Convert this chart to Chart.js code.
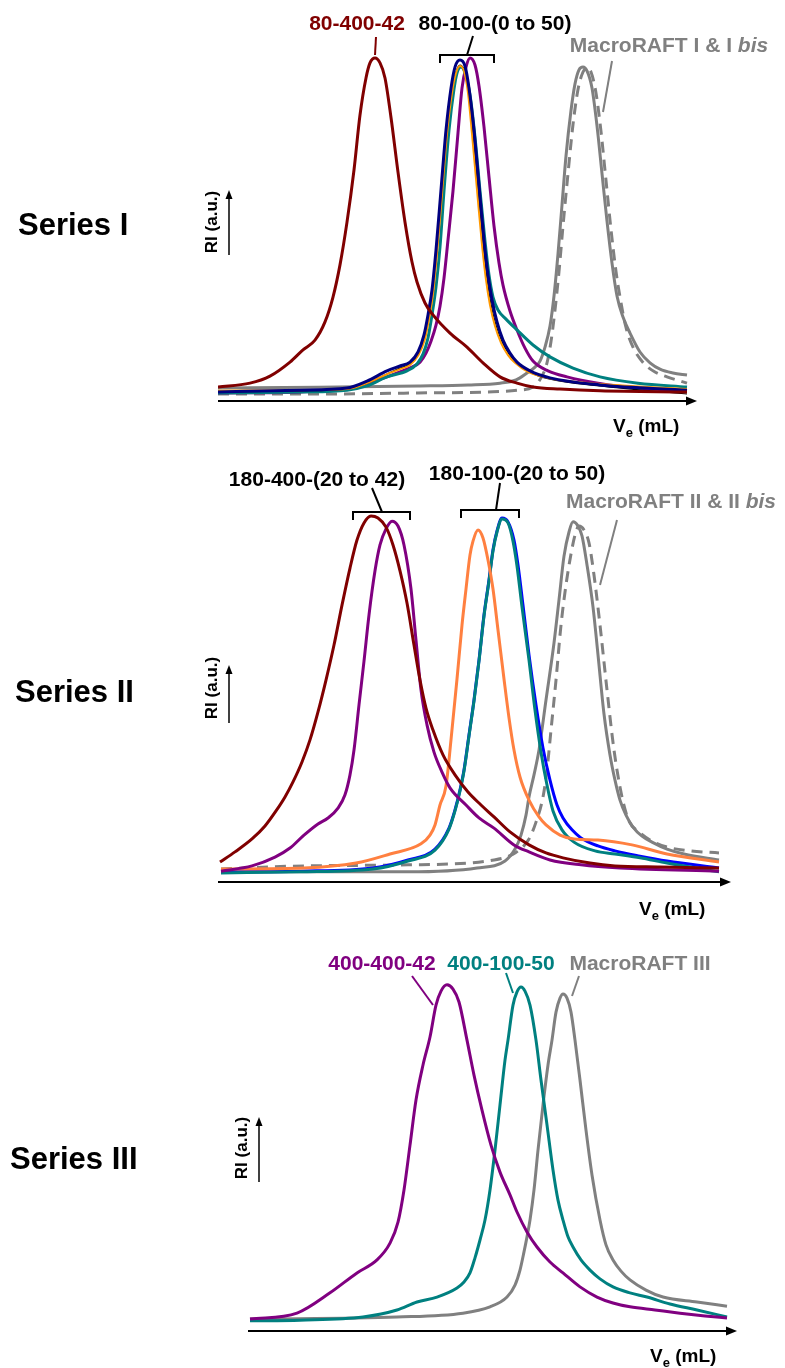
<!DOCTYPE html>
<html>
<head>
<meta charset="utf-8">
<title>SEC traces, series I to III</title>
<script src="https://cdn.jsdelivr.net/npm/chart.js@4"></script>
<style>
  body { margin: 0; background: #fff; }
  #wrap { position: relative; width: 785px; height: 1368px; }
  #wrap canvas { position: absolute; left: 0; top: 0; }
</style>
</head>
<body>
<div id="wrap">
  <canvas id="chart1" width="785" height="1368"></canvas>
  <canvas id="chart2" width="785" height="1368"></canvas>
  <canvas id="chart3" width="785" height="1368"></canvas>
</div>
<script>
"use strict";

// [Ve, RI] pairs, arbitrary units

// ---- Series I ----
let s1_80_400_42 = [[0,4.0],[3.2,5.1],[5.2,7.1],[7.2,11.1],[8.5,14.6],[9.7,17.4],[10.7,22.6],[11.5,29.7],[12.2,38.9],[12.9,51.1],[13.6,66.0],[14.2,81.7],[14.8,92.3],[15.2,96.6],[15.7,98.0],[16.2,96.6],[16.7,92.3],[17.3,81.0],[18.0,65.4],[18.7,51.1],[19.4,39.7],[19.9,34.0],[20.7,28.0],[21.5,24.6],[23.2,19.4],[24.9,15.4],[26.5,10.9],[28.2,6.9],[29.9,5.1],[31.5,4.0],[34.2,3.4],[38.2,2.9],[46.9,2.6]];
let s1_navy = [[0,2.6],[8.2,3.1],[12.9,3.7],[14.9,5.7],[16.9,8.6],[18.2,10.0],[19.2,11.1],[20.0,14.0],[20.6,18.9],[21.0,24.6],[21.4,31.7],[21.8,43.1],[22.3,60.3],[22.8,77.4],[23.3,89.4],[23.7,95.4],[24.2,97.4],[24.7,95.7],[25.1,89.4],[25.6,77.4],[26.1,61.7],[26.6,46.0],[27.0,36.0],[27.4,28.9],[27.9,22.6],[28.5,17.4],[29.2,13.7],[29.9,11.1],[31.2,8.6],[33.2,6.6],[38.2,4.6],[46.9,3.1]];
let s1_orange = [[0,2.9],[8.2,3.1],[12.9,3.4],[14.9,5.1],[16.9,7.7],[18.2,9.1],[19.2,10.3],[20.0,12.9],[20.7,17.7],[21.1,23.4],[21.5,30.6],[21.9,42.0],[22.4,59.1],[22.9,76.3],[23.4,88.0],[23.8,93.7],[24.2,95.7],[24.6,94.3],[25.0,88.0],[25.4,76.3],[25.9,60.3],[26.4,44.6],[26.8,34.6],[27.2,27.4],[27.7,21.4],[28.3,16.6],[29.0,13.1],[29.7,10.9],[31.0,8.3],[33.0,6.6],[38.0,4.9],[46.9,3.4]];
let s1_black = [[0,2.6],[8.2,2.9],[12.9,3.4],[14.9,5.1],[16.9,7.7],[18.2,9.4],[19.2,10.6],[20.0,13.1],[20.6,18.0],[21.1,23.7],[21.5,31.0],[21.9,42.6],[22.4,59.4],[22.9,76.6],[23.4,88.3],[23.8,94.0],[24.2,96.0],[24.6,94.6],[25.1,88.3],[25.5,76.6],[26.0,60.6],[26.5,45.1],[26.9,35.1],[27.3,27.7],[27.8,21.7],[28.4,16.9],[29.1,13.4],[29.8,11.1],[31.1,8.3],[33.1,6.3],[38.1,4.3],[46.9,2.0]];
let s1_teal = [[0,2.3],[8.2,2.6],[12.9,3.1],[14.9,4.3],[16.9,6.9],[18.9,8.6],[19.9,10.6],[20.5,13.4],[21.0,18.0],[21.4,24.6],[21.8,32.6],[22.2,44.0],[22.6,60.0],[23.1,77.4],[23.6,89.1],[23.9,93.7],[24.3,95.4],[24.7,93.7],[25.2,87.4],[25.7,75.4],[26.2,60.0],[26.7,45.7],[27.1,36.0],[27.5,29.7],[28.0,26.0],[28.8,23.4],[29.9,20.3],[31.5,16.0],[33.2,12.6],[35.5,9.4],[38.2,6.9],[42.0,5.1],[46.9,4.0]];
let s1_purple = [[0,2.3],[8.2,2.6],[12.9,3.4],[14.9,4.9],[16.9,6.9],[18.2,8.3],[19.4,9.7],[20.2,11.1],[20.8,13.7],[21.3,17.1],[21.8,21.7],[22.2,27.1],[22.6,35.1],[23.0,46.0],[23.5,60.0],[24.0,76.6],[24.4,89.4],[24.8,95.4],[25.2,98.0],[25.7,96.0],[26.1,90.0],[26.6,78.3],[27.1,64.0],[27.6,50.0],[28.1,39.4],[28.5,33.1],[29.2,25.7],[29.9,20.3],[30.7,15.1],[31.5,11.4],[33.0,8.6],[34.9,6.9],[38.0,5.1],[42.0,3.7],[46.9,2.9]];
let s1_macro = [[0,3.7],[10,3.9],[20,4.3],[25,4.6],[28.2,5.1],[29.8,6.0],[30.9,8.0],[31.7,9.7],[32.2,11.4],[32.7,15.4],[33.2,21.4],[33.6,30.0],[34.0,42.0],[34.4,56.0],[34.8,70.0],[35.3,83.0],[35.7,90.6],[36.1,94.6],[36.5,95.4],[36.9,94.3],[37.4,89.4],[37.9,78.6],[38.4,65.0],[38.9,51.4],[39.4,39.4],[39.9,30.0],[40.5,24.0],[41.2,19.4],[42.2,14.0],[43.2,10.9],[44.2,9.1],[45.5,8.0],[46.9,7.4]];
let s1_macroBis = [[0,2.0],[10,2.0],[20,2.3],[27,2.6],[30,3.1],[31.5,4.0],[32.3,6.6],[32.9,10.9],[33.3,17.0],[33.7,26.0],[34.1,37.0],[34.5,50.0],[35.0,65.0],[35.5,79.0],[36.0,89.0],[36.5,94.0],[36.9,95.1],[37.3,94.0],[37.8,88.0],[38.3,77.0],[38.8,63.0],[39.3,49.0],[39.8,37.0],[40.2,29.7],[40.8,21.0],[41.5,15.4],[42.5,11.0],[43.7,8.3],[44.9,6.9],[46.9,5.1]];

// ---- Series II ----
let s2_darkred = [[0.2,5.7],[1.7,8.6],[3.4,12.3],[4.7,16.0],[5.8,20.3],[6.7,24.3],[7.5,28.6],[8.4,34.3],[9.2,40.6],[10.0,48.6],[10.8,57.7],[11.6,67.7],[12.4,79.1],[13.2,89.7],[13.9,97.7],[14.6,102.6],[15.3,104.6],[16.0,104.0],[16.8,101.4],[17.5,96.3],[18.2,88.9],[18.9,79.7],[19.6,67.7],[20.2,57.7],[20.8,49.7],[21.5,43.4],[22.5,36.3],[23.7,30.6],[25.0,25.7],[26.3,22.0],[27.6,18.6],[29.2,14.3],[31.1,10.6],[32.8,8.3],[34.5,6.9],[37.2,5.4],[39.7,4.6],[44.2,4.3],[50.1,4.0]];
let s2_purple = [[0.3,3.1],[3.4,4.6],[5.7,7.1],[7.2,9.7],[8.6,13.4],[10.0,16.6],[11.0,18.3],[12.0,21.1],[12.7,24.9],[13.2,30.6],[13.6,37.7],[14.1,50.6],[14.6,63.1],[15.1,76.3],[15.7,88.9],[16.2,96.3],[16.8,100.9],[17.4,103.1],[18.0,101.7],[18.6,96.3],[19.3,83.7],[19.8,69.1],[20.3,54.9],[20.9,44.9],[21.6,37.1],[22.4,31.4],[23.2,26.9],[24.8,22.0],[26.1,18.3],[27.6,15.4],[29.6,10.6],[31.1,8.6],[33.2,6.3],[36.3,4.9],[40.2,4.0],[50.1,3.1]];
let s2_orange = [[0.3,3.7],[8.6,4.0],[13.8,5.4],[17.2,8.0],[20.3,10.9],[21.2,13.4],[21.7,16.3],[22.2,22.0],[22.8,27.4],[23.3,40.6],[23.9,58.0],[24.4,73.4],[24.8,83.7],[25.2,93.4],[25.5,97.4],[26.0,100.6],[26.5,98.3],[27.0,92.0],[27.5,83.7],[28.0,72.0],[28.6,58.0],[29.1,46.9],[29.6,37.7],[30.2,30.0],[31.1,23.4],[32.1,18.6],[32.8,16.3],[34.2,13.4],[35.6,12.3],[38.0,12.0],[41.4,10.6],[44.9,8.0],[50.1,5.7]];
let s2_blue = [[0.3,2.9],[8.2,3.1],[15.5,4.0],[19.0,6.3],[21.7,9.4],[23.1,15.4],[23.7,20.6],[24.2,26.3],[24.6,32.0],[25.1,42.0],[25.6,52.0],[26.1,63.4],[26.6,76.3],[27.1,86.3],[27.5,94.9],[27.9,100.3],[28.4,104.0],[29.0,102.9],[29.6,97.7],[30.0,90.6],[30.5,79.1],[31.1,64.9],[31.8,50.6],[32.5,38.3],[33.2,29.1],[33.9,22.0],[34.5,18.3],[35.4,14.9],[36.3,12.6],[38.0,10.3],[39.7,8.9],[42.2,7.4],[44.9,6.0],[50.1,4.0]];
let s2_teal = [[0.3,2.6],[8.2,2.9],[15.5,3.7],[19.0,6.0],[21.7,9.1],[23.1,15.1],[23.7,20.3],[24.2,26.0],[24.6,31.7],[25.1,41.7],[25.6,51.7],[26.1,63.1],[26.6,76.0],[27.1,86.0],[27.5,94.6],[27.9,100.0],[28.4,103.7],[29.0,102.6],[29.5,97.4],[29.9,90.3],[30.4,78.6],[31.1,63.4],[31.7,49.1],[32.3,37.1],[32.9,27.7],[33.5,20.3],[34.4,14.9],[35.6,11.4],[37.7,8.9],[39.7,8.0],[42.2,6.9],[44.9,5.4],[50.1,2.9]];
let s2_macro = [[0.3,2.9],[8.2,2.9],[19.0,2.9],[25.9,4.0],[28.7,6.0],[29.7,9.4],[30.3,13.4],[30.8,19.1],[31.1,24.3],[31.6,30.6],[32.1,37.7],[32.8,52.0],[33.6,68.3],[34.1,80.6],[34.6,93.1],[35.1,100.0],[35.5,102.9],[36.0,101.7],[36.4,98.9],[36.9,90.6],[37.5,78.6],[38.0,64.9],[38.6,48.0],[39.2,36.3],[39.7,29.1],[40.2,23.4],[40.8,19.1],[41.5,15.7],[42.4,13.1],[43.4,11.4],[44.9,9.4],[46.6,8.0],[50.1,6.3]];
let s2_macroBis = [[0.3,3.7],[8.6,4.6],[19.0,4.9],[27.6,6.3],[29.7,8.3],[31.1,12.3],[31.8,17.1],[32.5,24.3],[32.9,32.0],[33.3,43.4],[33.8,57.7],[34.3,73.4],[34.8,84.9],[35.3,93.7],[35.7,99.1],[36.1,101.7],[36.6,100.6],[37.1,96.9],[37.6,87.7],[38.2,73.4],[38.9,54.9],[39.6,37.7],[40.4,24.3],[41.1,17.4],[42.1,14.3],[43.2,12.0],[44.9,10.0],[47.2,8.9],[50.1,8.3]];

// ---- Series III ----
let s3_400_400_42 = [[0.2,3.4],[4.9,5.1],[8.2,10.9],[10.9,16.6],[12.9,20.3],[14.2,25.1],[15.0,31.1],[15.6,40.3],[16.2,53.1],[16.8,66.0],[17.5,76.0],[18.2,84.0],[18.8,93.1],[19.3,97.1],[19.9,98.9],[20.5,97.7],[21.1,94.0],[21.9,83.1],[22.6,73.1],[23.4,63.1],[24.3,53.1],[25.2,45.4],[26.2,38.9],[26.9,34.0],[27.9,28.3],[28.9,24.0],[30.2,19.7],[31.5,16.6],[33.2,12.6],[34.9,9.7],[36.5,8.0],[38.2,6.9],[40.7,6.0],[43.2,5.1],[45.7,4.3],[47.9,3.7]];
let s3_400_100_50 = [[0.2,2.9],[5.2,3.1],[11.5,4.0],[14.9,6.0],[16.9,8.3],[18.9,9.7],[20.9,12.3],[21.6,14.0],[22.2,16.6],[22.7,20.9],[23.2,26.0],[23.7,31.7],[24.2,40.3],[24.7,51.7],[25.2,64.6],[25.7,77.4],[26.0,83.1],[26.5,93.1],[26.9,96.9],[27.3,98.3],[27.7,97.1],[28.2,93.1],[28.8,83.1],[29.3,71.7],[29.9,58.9],[30.5,46.0],[31.0,37.4],[31.5,31.7],[32.0,26.9],[32.5,24.0],[33.3,20.3],[34.2,17.4],[35.2,14.9],[36.5,12.6],[38.2,10.9],[39.9,9.7],[42.2,7.7],[44.9,6.0],[47.9,4.0]];
let s3_macro = [[0.2,3.4],[14.9,4.0],[21.5,5.1],[24.2,6.9],[25.9,9.7],[26.7,13.1],[27.2,17.4],[27.6,22.6],[27.9,26.9],[28.2,31.7],[28.6,40.3],[29.0,51.7],[29.5,64.6],[30.0,76.0],[30.4,83.1],[30.8,91.1],[31.2,95.1],[31.5,96.3],[31.9,95.1],[32.3,91.1],[32.7,83.1],[33.2,71.7],[33.8,57.4],[34.4,44.6],[35.2,31.7],[35.8,24.6],[36.5,20.3],[37.3,17.1],[38.2,14.6],[39.8,11.7],[41.5,9.7],[44.9,8.3],[47.9,7.1]];

let FONT = "'Liberation Sans', Arial, sans-serif";
let GREY = "#808080";

function curve(points, color, width, dash) {
  return {
    data: points.map(p => ({ x: p[0], y: p[1] })),
    borderColor: color,
    borderWidth: width,
    borderDash: dash || [],
    pointRadius: 0,
    fill: false,
    cubicInterpolationMode: "monotone",
  };
}

function drawText(ctx, parts, cx, baseline, color, size) {
  let total = 0;
  for (let p of parts) {
    ctx.font = (p[1] ? "italic " : "") + "bold " + size + "px " + FONT;
    total += ctx.measureText(p[0]).width;
  }
  let x = cx - total / 2;
  ctx.fillStyle = color;
  ctx.textBaseline = "alphabetic";
  ctx.textAlign = "left";
  for (let p of parts) {
    ctx.font = (p[1] ? "italic " : "") + "bold " + size + "px " + FONT;
    ctx.fillText(p[0], x, baseline);
    x += ctx.measureText(p[0]).width;
  }
}

function line(ctx, x1, y1, x2, y2, color, w) {
  ctx.strokeStyle = color;
  ctx.lineWidth = w;
  ctx.setLineDash([]);
  ctx.beginPath();
  ctx.moveTo(x1, y1);
  ctx.lineTo(x2, y2);
  ctx.stroke();
}

function bracket(ctx, x1, x2, y, tick) {
  ctx.strokeStyle = "#000";
  ctx.lineWidth = 2;
  ctx.beginPath();
  ctx.moveTo(x1, y + tick);
  ctx.lineTo(x1, y);
  ctx.lineTo(x2, y);
  ctx.lineTo(x2, y + tick);
  ctx.stroke();
}

function xAxisArrow(chart) {
  let ctx = chart.ctx;
  let area = chart.chartArea;
  let y = chart.scales.y.getPixelForValue(0);
  line(ctx, area.left, y, area.right - 8, y, "#000", 1.8);
  ctx.fillStyle = "#000";
  ctx.beginPath();
  ctx.moveTo(area.right, y);
  ctx.lineTo(area.right - 11, y - 4.5);
  ctx.lineTo(area.right - 11, y + 4.5);
  ctx.closePath();
  ctx.fill();
}

function veLabel(ctx, x, baseline) {
  ctx.fillStyle = "#000";
  ctx.textAlign = "left";
  ctx.textBaseline = "alphabetic";
  ctx.font = "bold 19px " + FONT;
  ctx.fillText("V", x, baseline);
  let w = ctx.measureText("V").width;
  ctx.font = "bold 13px " + FONT;
  ctx.fillText("e", x + w, baseline + 5);
  let w2 = ctx.measureText("e").width;
  ctx.font = "bold 19px " + FONT;
  ctx.fillText(" (mL)", x + w + w2, baseline);
}

function riLabel(ctx, x, cy, ax, aTop, aBottom) {
  ctx.save();
  ctx.translate(x, cy);
  ctx.rotate(-Math.PI / 2);
  ctx.fillStyle = "#000";
  ctx.font = "bold 17px " + FONT;
  ctx.textAlign = "center";
  ctx.textBaseline = "middle";
  ctx.fillText("RI (a.u.)", 0, 0);
  ctx.restore();
  line(ctx, ax, aBottom, ax, aTop + 6, "#000", 1.5);
  ctx.fillStyle = "#000";
  ctx.beginPath();
  ctx.moveTo(ax, aTop);
  ctx.lineTo(ax - 3.5, aTop + 9);
  ctx.lineTo(ax + 3.5, aTop + 9);
  ctx.closePath();
  ctx.fill();
}

function seriesLabel(ctx, text, x, baseline) {
  ctx.fillStyle = "#000";
  ctx.font = "bold 31px " + FONT;
  ctx.textAlign = "left";
  ctx.textBaseline = "alphabetic";
  ctx.fillText(text, x, baseline);
}

function makePanel(id, datasets, xMax, padding, extras) {
  let ctx = document.getElementById(id);
  return new Chart(ctx, {
    type: "line",
    data: { datasets: datasets },
    options: {
      responsive: false,
      animation: false,
      devicePixelRatio: 1,
      layout: { padding: padding },
      plugins: { legend: { display: false }, tooltip: { enabled: false } },
      scales: {
        x: { type: "linear", min: 0, max: xMax, display: false },
        y: { min: 0, max: 110, display: false },
      },
    },
    plugins: [{
      id: "decor" + id,
      afterDraw(chart) {
        xAxisArrow(chart);
        extras(chart.ctx);
      },
    }],
  });
}

let DASH = [11, 7];

makePanel("chart1", [
  curve(s1_80_400_42, "#800000", 3),
  curve(s1_navy, "#000080", 3),
  curve(s1_orange, "#FF9900", 2),
  curve(s1_black, "#000000", 1.2),
  curve(s1_teal, "#008080", 3),
  curve(s1_purple, "#800080", 3),
  curve(s1_macro, GREY, 3),
  curve(s1_macroBis, GREY, 3, DASH),
], 47.9, { left: 218, right: 88, top: 16, bottom: 967 }, function (ctx) {
  drawText(ctx, [["80-400-42"]], 357, 30, "#800000", 21);
  drawText(ctx, [["80-100-(0 to 50)"]], 495, 30, "#000", 21);
  drawText(ctx, [["MacroRAFT I & I "], ["bis", true]], 669, 52, GREY, 21);
  line(ctx, 376, 37, 375, 55, "#800000", 2);
  bracket(ctx, 440, 494, 55, 8);
  line(ctx, 467, 55, 473, 36, "#000", 2);
  line(ctx, 612, 61, 603, 112, GREY, 2);
  veLabel(ctx, 613, 432);
  riLabel(ctx, 212, 222, 229, 190, 255);
  seriesLabel(ctx, "Series I", 18, 235);
});

makePanel("chart2", [
  curve(s2_darkred, "#800000", 3),
  curve(s2_purple, "#800080", 3),
  curve(s2_orange, "#FF8040", 3),
  curve(s2_teal, "#008080", 3),
  curve(s2_blue, "#0000FF", 3),
  curve(s2_macro, GREY, 3),
  curve(s2_macroBis, GREY, 3, DASH),
], 51.3, { left: 218, right: 54, top: 497, bottom: 486 }, function (ctx) {
  drawText(ctx, [["180-400-(20 to 42)"]], 317, 486, "#000", 21);
  drawText(ctx, [["180-100-(20 to 50)"]], 517, 480, "#000", 21);
  drawText(ctx, [["MacroRAFT II & II "], ["bis", true]], 671, 508, GREY, 21);
  bracket(ctx, 353, 410, 512, 8);
  line(ctx, 382, 512, 372, 488, "#000", 2);
  bracket(ctx, 461, 519, 510, 8);
  line(ctx, 496, 510, 500, 483, "#000", 2);
  line(ctx, 617, 520, 600, 585, GREY, 2);
  veLabel(ctx, 639, 915);
  riLabel(ctx, 212, 688, 229, 665, 723);
  seriesLabel(ctx, "Series II", 15, 702);
});

makePanel("chart3", [
  curve(s3_400_400_42, "#800080", 3),
  curve(s3_400_100_50, "#008080", 3),
  curve(s3_macro, GREY, 3),
], 48.9, { left: 248, right: 48, top: 946, bottom: 37 }, function (ctx) {
  drawText(ctx, [["400-400-42"]], 382, 970, "#800080", 21);
  drawText(ctx, [["400-100-50"]], 501, 970, "#008080", 21);
  drawText(ctx, [["MacroRAFT III"]], 640, 970, GREY, 21);
  line(ctx, 412, 976, 433, 1005, "#800080", 2);
  line(ctx, 506, 973, 513, 993, "#008080", 2);
  line(ctx, 579, 976, 572, 996, GREY, 2);
  veLabel(ctx, 650, 1362);
  riLabel(ctx, 242, 1148, 259, 1117, 1182);
  seriesLabel(ctx, "Series III", 10, 1169);
});
</script>
</body>
</html>
